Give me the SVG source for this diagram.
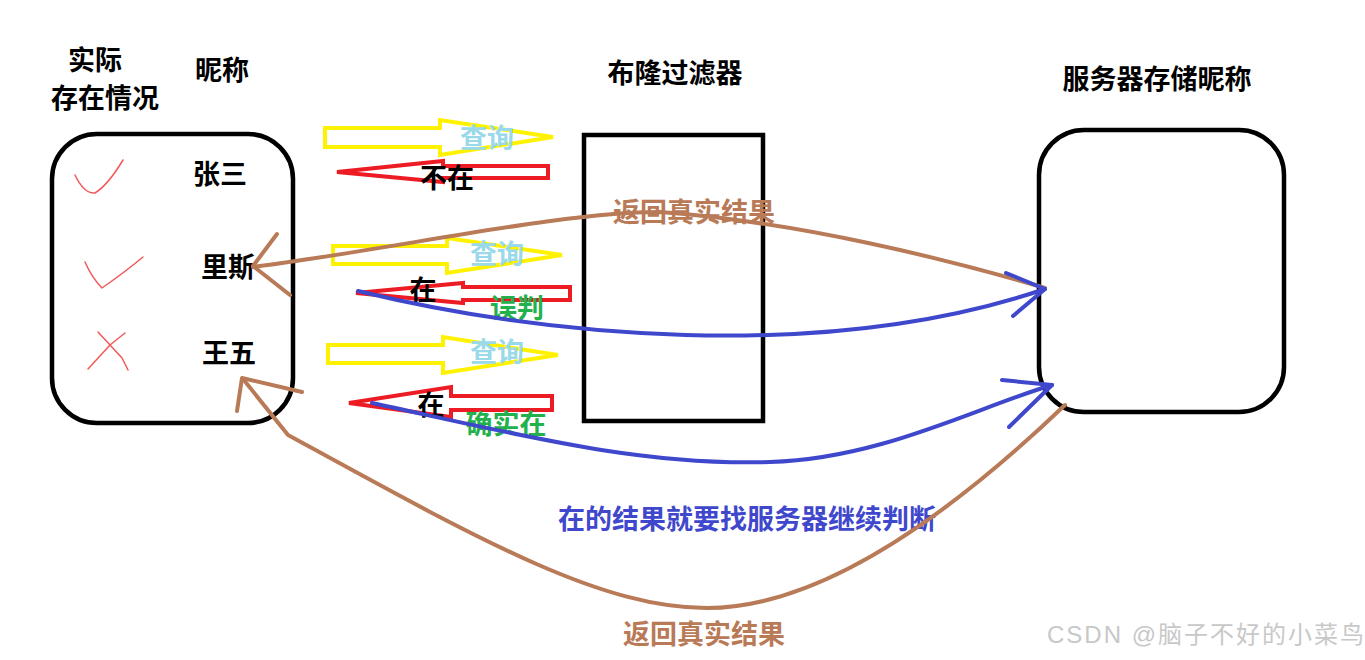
<svg xmlns="http://www.w3.org/2000/svg" width="1365" height="660" viewBox="0 0 1365 660">
<style>
.t{font-family:"Noto Sans CJK SC","Liberation Sans",sans-serif;font-weight:bold;font-size:27px;text-anchor:middle}
.k{fill:#000}
.box{fill:none;stroke:#000;stroke-width:4.5}
.ya{fill:none;stroke:#fff200;stroke-width:4;stroke-linejoin:miter}
.ra{fill:none;stroke:#ed1c24;stroke-width:4;stroke-linejoin:miter}
.bl{fill:none;stroke:#3f48cc;stroke-width:4;stroke-linecap:round;stroke-linejoin:round}
.br{fill:none;stroke:#b97a57;stroke-width:4;stroke-linecap:round;stroke-linejoin:round}
.mk{fill:none;stroke:#f05a5a;stroke-width:1.5;stroke-linecap:round;stroke-linejoin:round}
.wm{font-family:"Liberation Sans","Noto Sans CJK SC",sans-serif;font-size:24px;letter-spacing:2px;fill:#c8c8c8}
</style>
<rect width="1365" height="660" fill="#fff"/>

<g id="headers">
<text class="t k" x="95" y="70">实际</text>
<text class="t k" x="105" y="108">存在情况</text>
<text class="t k" x="222" y="80">昵称</text>
<text class="t k" x="675" y="83">布隆过滤器</text>
<text class="t k" x="1157" y="89">服务器存储昵称</text>
</g>

<g id="client-box">
<rect class="box" x="52" y="134" width="241" height="289" rx="45" ry="45"/>
<text class="t k" x="220" y="184">张三</text>
<text class="t k" x="228" y="277">里斯</text>
<text class="t k" x="229" y="363">王五</text>
<path class="mk" d="M75,175 Q84,194 95,193 Q108,185 123,160"/>
<path class="mk" d="M85,262 Q92,278 102,288 Q125,272 143,257"/>
<polyline class="mk" points="98,332 110,345 122,358 128,370"/>
<polyline class="mk" points="125,333 110,345 88,369"/>
</g>

<g id="bloom-filter">
<rect class="box" x="584" y="135" width="179" height="286"/>
</g>

<g id="server-box">
<rect class="box" x="1039" y="130" width="245" height="282" rx="45" ry="45"/>
</g>

<g id="block-arrows">
<polygon class="ya" points="325,128 440,128 440,120 553,137 440,155 440,147 325,147"/>
<polygon class="ra" points="337,172 443,161 443,166 548,166 548,178 443,178 443,182"/>
<polygon class="ya" points="333,246 447,246 447,238 562,255 447,273 447,264 333,264"/>
<polygon class="ra" points="356,293 463,283 463,287 570,287 570,300 463,300 463,303"/>
<polygon class="ya" points="328,345 443,345 443,337 558,355 443,373 443,363 328,363"/>
<polygon class="ra" points="349,403 451,387 451,396 552,396 552,410 451,410 451,417"/>
</g>

<g id="labels">
<text class="t" x="487" y="148" fill="#99d9ea">查询</text>
<text class="t k" x="447" y="188">不在</text>
<text class="t" x="497" y="264" fill="#99d9ea">查询</text>
<text class="t k" x="423" y="300">在</text>
<text class="t" x="517" y="318" fill="#22b14c">误判</text>
<text class="t" x="497" y="362" fill="#99d9ea">查询</text>
<text class="t k" x="431" y="415">在</text>
<text class="t" x="506" y="434" fill="#22b14c">确实在</text>
<text class="t" x="694" y="222" fill="#b97a57">返回真实结果</text>
<text class="t" x="747" y="529" fill="#3f48cc">在的结果就要找服务器继续判断</text>
<text class="t" x="704" y="644" fill="#b97a57">返回真实结果</text>
</g>

<g id="connectors">
<path class="br" d="M253,267 C400,248 560,212 660,212 C800,222 950,260 1045,288"/>
<polyline class="br" points="277,234 253,266 290,295"/>
<path class="bl" d="M358,291 C540,335 820,365 1045,289"/>
<polyline class="bl" points="1006,273 1045,289 1013,316"/>
<path class="bl" d="M372,403 C520,435 640,466 770,462 C880,459 975,408 1052,385"/>
<polyline class="bl" points="1002,380 1052,385 1009,427"/>
<path class="br" d="M1065,405 C950,515 820,608 707,608 C600,608 480,540 288,435 L243,379"/>
<polyline class="br" points="237,411 242,378 302,392"/>
</g>

<text class="wm" x="1047" y="643">CSDN @脑子不好的小菜鸟</text>
</svg>
